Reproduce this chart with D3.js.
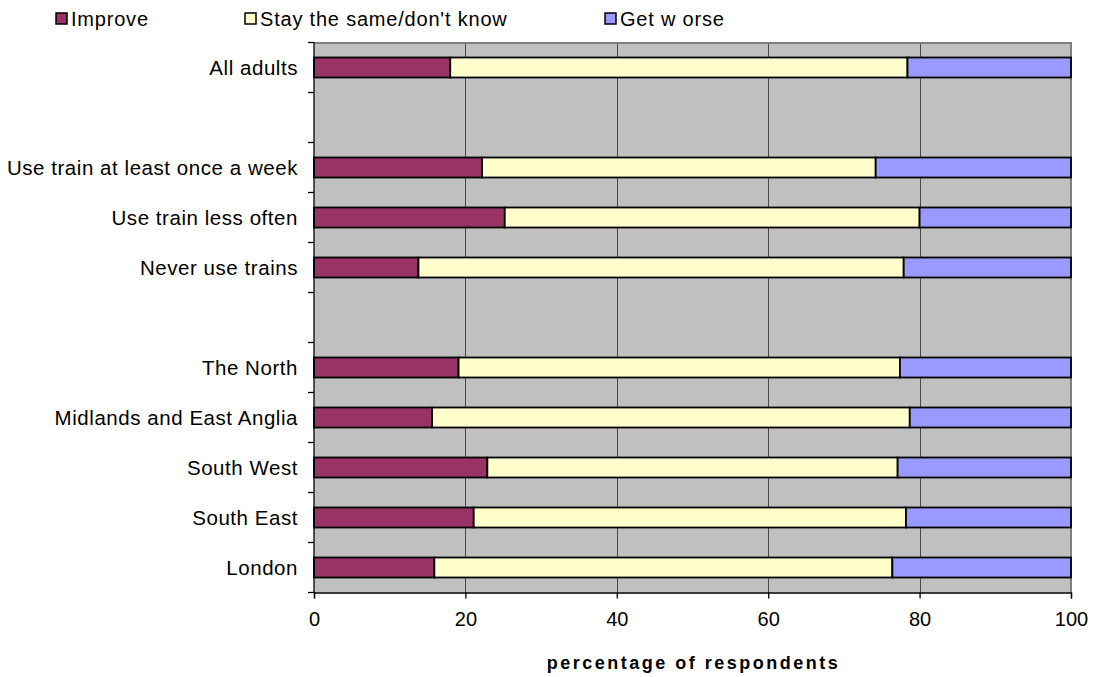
<!DOCTYPE html>
<html>
<head>
<meta charset="utf-8">
<script src="https://cdn.jsdelivr.net/npm/d3@7"></script>
<style>
  html, body { margin: 0; padding: 0; background: #fff; }
  svg { display: block; font-family: "Liberation Sans", Arial, sans-serif; }
</style>
</head>
<body>
<svg id="chart" width="1093" height="677"></svg>
<script>
// Rows top to bottom; empty strings are spacer rows between groups
const categories = [
  "All adults", "",
  "Use train at least once a week", "Use train less often", "Never use trains", "",
  "The North", "Midlands and East Anglia", "South West", "South East", "London"
];
const improve = [18.0, null, 22.2, 25.2, 13.8, null, 19.1, 15.6, 22.9, 21.1, 15.9];
const staySame = [60.4, null, 52.0, 54.8, 64.1, null, 58.3, 63.1, 54.2, 57.1, 60.5];
const getWorse = [21.6, null, 25.8, 20.0, 22.1, null, 22.6, 21.3, 22.9, 21.8, 23.6];
const seriesNames = ["Improve", "Stay the same/don't know", "Get w orse"];
const seriesColors = ["#993366", "#FFFFCC", "#9999FF"];
const xTicks = [0, 20, 40, 60, 80, 100];
const xTitle = "percentage of respondents";

const svg = d3.select("#chart");
const margin = { left: 314, right: 22, top: 42.5, bottom: 84.5 };
const W = 1093, H = 677;
const innerW = W - margin.left - margin.right;
const innerH = H - margin.top - margin.bottom;

const x = d3.scaleLinear().domain([0, 100]).range([0, innerW]);
const y = d3.scaleBand().domain(d3.range(categories.length)).range([0, innerH]).paddingInner(0.6).paddingOuter(0.3);
const yOuter = d3.scaleBand().domain(d3.range(categories.length)).range([0, innerH]);

const g = svg.append("g").attr("transform", `translate(${margin.left},${margin.top})`);

// plot background
g.append("rect").attr("width", innerW).attr("height", innerH).attr("fill", "#C0C0C0");

// vertical gridlines
g.selectAll("line.grid").data(xTicks.slice(1, -1)).join("line")
  .attr("class", "grid")
  .attr("x1", d => Math.round(x(d)) + 0.5).attr("x2", d => Math.round(x(d)) + 0.5)
  .attr("y1", 0).attr("y2", innerH)
  .attr("stroke", "#4a4a4a").attr("stroke-width", 1);

// top and right frame
g.append("path")
  .attr("d", `M0,0.5H${innerW}V${innerH}`)
  .attr("fill", "none").attr("stroke", "#808080").attr("stroke-width", 2);

// stacked series
const rows = categories.map((c, i) => ({ i, vals: [improve[i], staySame[i], getWorse[i]] }))
  .filter(r => r.vals[0] != null);
const segs = [];
rows.forEach(r => {
  let acc = 0;
  r.vals.forEach((v, k) => { segs.push({ i: r.i, k, x0: acc, x1: acc + v }); acc += v; });
});
g.selectAll("rect.bar").data(segs).join("rect")
  .attr("class", "bar")
  .attr("x", d => x(d.x0)).attr("width", d => x(d.x1) - x(d.x0))
  .attr("y", d => y(d.i)).attr("height", y.bandwidth())
  .attr("fill", d => seriesColors[d.k])
  .attr("stroke", "#000").attr("stroke-width", 1.8);

// y axis
const yTickPos = d3.range(categories.length + 1).map(i => i * yOuter.step());
g.append("line").attr("x1", 0).attr("x2", 0).attr("y1", 0).attr("y2", innerH)
  .attr("stroke", "#000").attr("stroke-width", 1.3);
g.selectAll("line.ytick").data(yTickPos).join("line")
  .attr("class", "ytick")
  .attr("x1", -6).attr("x2", 0).attr("y1", d => d).attr("y2", d => d)
  .attr("stroke", "#000").attr("stroke-width", 1.3);
g.selectAll("text.ylab").data(categories.map((c, i) => ({ c, i })).filter(d => d.c)).join("text")
  .attr("class", "ylab")
  .attr("x", -16).attr("y", d => y(d.i) + y.bandwidth() / 2)
  .attr("dy", "0.35em").attr("text-anchor", "end")
  .attr("font-size", 20.5).attr("letter-spacing", "0.55px")
  .attr("fill", "#000").text(d => d.c);

// x axis
const xAxis = d3.axisBottom(x).tickValues(xTicks).tickSize(6).tickPadding(13).tickFormat(d3.format("d"));
const xg = g.append("g").attr("transform", `translate(0,${innerH})`).call(xAxis);
xg.select(".domain").attr("stroke", "#000").attr("stroke-width", 1.3);
xg.selectAll(".tick line").attr("stroke", "#000").attr("stroke-width", 1.3);
xg.selectAll(".tick text").attr("font-size", 20).attr("fill", "#000")
  .attr("font-family", "'Liberation Sans', Arial, sans-serif");

g.append("text")
  .attr("x", innerW / 2 + 1).attr("y", innerH + 76)
  .attr("text-anchor", "middle").attr("font-size", 18).attr("font-weight", "bold")
  .attr("letter-spacing", "2.5px").attr("fill", "#000")
  .text(xTitle);

// legend
const legendX = [56, 245, 605];
const lg = svg.append("g");
seriesNames.forEach((name, k) => {
  lg.append("rect").attr("x", legendX[k]).attr("y", 13).attr("width", 11).attr("height", 11)
    .attr("fill", seriesColors[k]).attr("stroke", "#000").attr("stroke-width", 1.5);
  lg.append("text").attr("x", legendX[k] + 15).attr("y", 19).attr("dy", "0.35em")
    .attr("font-size", 20).attr("letter-spacing", "0.8px").attr("fill", "#000").text(name);
});
</script>
</body>
</html>
